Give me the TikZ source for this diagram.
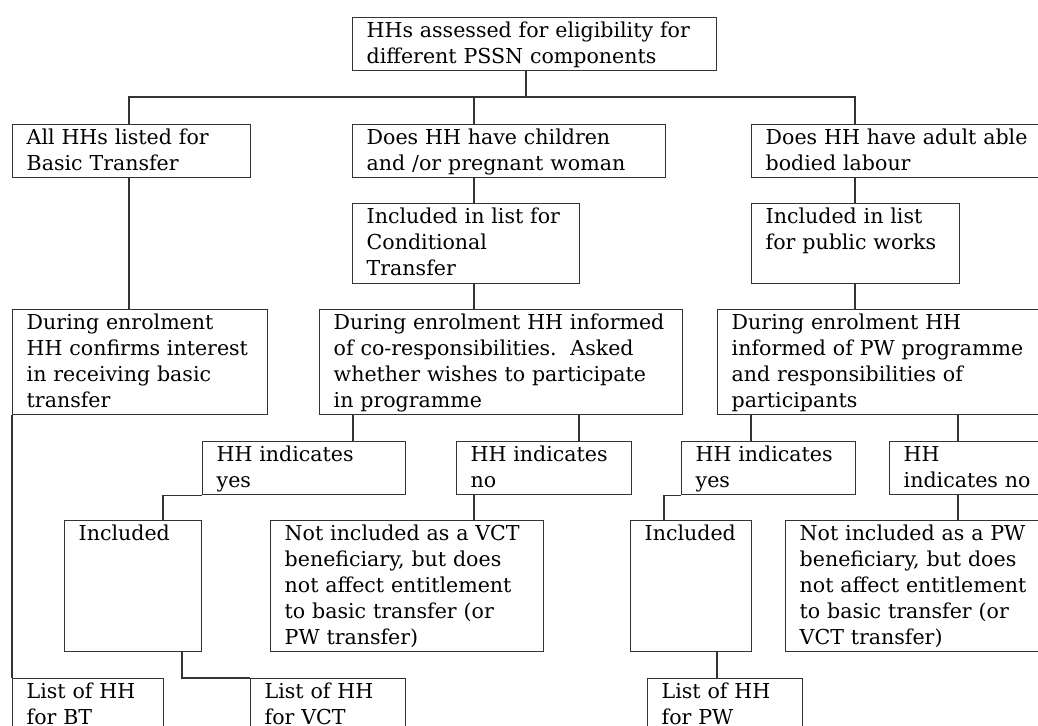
\documentclass[tikz,border=0pt]{standalone}
\usepackage{fontspec}
\setmainfont{DejaVu Serif}
\tikzset{
  box/.style={draw=black!80, line width=0.8pt, anchor=north west, align=left,
    inner xsep=0.28cm, inner ysep=0pt, text height=0.4cm,
    font=\fontsize{11.7}{14.8}\selectfont},
  link/.style={draw=black!80, line width=0.8pt}
}
\begin{document}
\begin{tikzpicture}[x=0.02cm, y=-0.02cm]
  \useasboundingbox (0,0) rectangle (1038,726);
  % level 0 and 1
  \node[box, text width=6.72cm, text depth=0.66cm] (hhs) at (352,17) {HHs assessed for eligibility for\\different PSSN components};
  \node[box, text width=4.2cm, text depth=0.66cm] (all) at (12,124) {All HHs listed for\\Basic Transfer};
  \node[box, text width=5.7cm, text depth=0.66cm] (kids) at (352,124) {Does HH have children\\and /or pregnant woman};
  \node[box, text width=5.42cm, text depth=0.66cm] (adult) at (751,124) {Does HH have adult able\\bodied labour};
  \node[box, text width=3.98cm, text depth=1.2cm] (condlist) at (352,203) {Included in list for\\Conditional\\Transfer};
  \node[box, text width=3.6cm, text depth=1.2cm] (pwlist) at (751,203) {Included in list\\for public works};
  % enrolment
  \node[box, text width=4.54cm, text depth=1.7cm] (enrolBT) at (12,309) {During enrolment\\HH confirms interest\\in receiving basic\\transfer};
  \node[box, text width=6.7cm, text depth=1.7cm] (enrolCT) at (319,309) {During enrolment HH informed\\of co-responsibilities.\ \ Asked\\whether wishes to participate\\in programme};
  \node[box, text width=6.1cm, text depth=1.7cm] (enrolPW) at (717,309) {During enrolment HH\\informed of PW programme\\and responsibilities of\\participants};
  % answers
  \node[box, text width=3.5cm, text depth=0.66cm] (ctyes) at (202,441) {HH indicates\\yes};
  \node[box, text width=2.94cm, text depth=0.66cm] (ctno) at (456,441) {HH indicates\\no};
  \node[box, text width=2.92cm, text depth=0.66cm] (pwyes) at (681,441) {HH indicates\\yes};
  \node[box, text width=2.66cm, text depth=0.66cm] (pwno) at (889,441) {HH\\indicates no};
  \node[box, text width=2.18cm, text depth=2.22cm] (ctin) at (64,520) {Included};
  \node[box, text width=4.9cm, text depth=2.22cm] (ctout) at (270,520) {Not included as a VCT\\beneficiary, but does\\not affect entitlement\\to basic transfer (or\\PW transfer)};
  \node[box, text width=1.86cm, text depth=2.22cm] (pwin) at (630,520) {Included};
  \node[box, text width=4.74cm, text depth=2.22cm] (pwout) at (785,520) {Not included as a PW\\beneficiary, but does\\not affect entitlement\\to basic transfer (or\\VCT transfer)};
  % lists
  \node[box, text width=2.46cm, text depth=0.66cm] (listBT) at (12,678) {List of HH\\for BT};
  \node[box, text width=2.54cm, text depth=0.66cm] (listVCT) at (250,678) {List of HH\\for VCT};
  \node[box, text width=2.54cm, text depth=0.66cm] (listPW) at (647,678) {List of HH\\for PW};
  % connectors
  \coordinate (split) at (526,97);
  \draw[link] (hhs.south -| split) -- (split);
  \draw[link] (all.north -| 129,0) |- (split) -| (adult.north -| 855,0);
  \draw[link] (kids.north -| 474,0) |- (split);
  \draw[link] (all.south -| 129,0) -- (enrolBT.north -| 129,0);
  \draw[link] (kids.south -| 474,0) -- (condlist.north -| 474,0);
  \draw[link] (condlist.south -| 474,0) -- (enrolCT.north -| 474,0);
  \draw[link] (adult.south -| 855,0) -- (pwlist.north -| 855,0);
  \draw[link] (pwlist.south -| 855,0) -- (enrolPW.north -| 855,0);
  \draw[link] (enrolBT.south west) -- (listBT.north west);
  \draw[link] (enrolCT.south -| 353,0) -- (ctyes.north -| 353,0);
  \draw[link] (enrolCT.south -| 579,0) -- (ctno.north -| 579,0);
  \draw[link] (enrolPW.south -| 751,0) -- (pwyes.north -| 751,0);
  \draw[link] (enrolPW.south -| 958,0) -- (pwno.north -| 958,0);
  \draw[link] (ctyes.south west) -| (ctin.north -| 163,0);
  \draw[link] (ctno.south -| 474,0) -- (ctout.north -| 474,0);
  \draw[link] (pwyes.south west) -| (pwin.north -| 664,0);
  \draw[link] (pwno.south -| 958,0) -- (pwout.north -| 958,0);
  \draw[link] (ctin.south -| 182,0) |- (listVCT.north west);
  \draw[link] (pwin.south -| 717,0) -- (listPW.north -| 717,0);
\end{tikzpicture}
\end{document}
